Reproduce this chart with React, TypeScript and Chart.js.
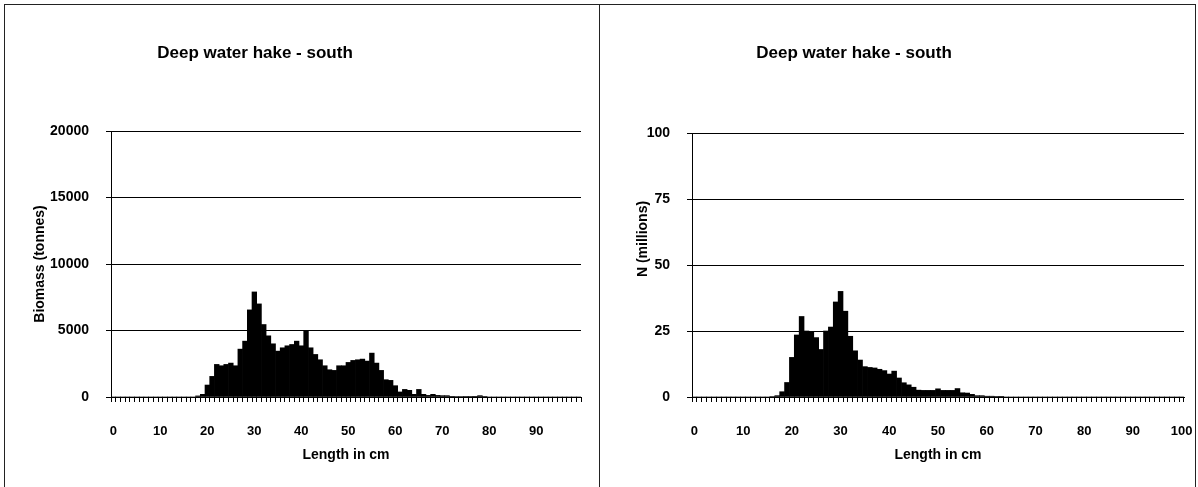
import React, { useEffect, useRef } from 'react';
import { Chart, registerables } from 'chart.js';

Chart.register(...registerables);

// ---------- data ----------
const chartTitle = 'Deep water hake - south';
const xAxisTitle = 'Length in cm';
const leftYAxisTitle = 'Biomass (tonnes)';
const rightYAxisTitle = 'N (millions)';

// length classes (cm)
const leftLengths: string[] = Array.from({ length: 100 }, (_, i) => String(i));
const rightLengths: string[] = Array.from({ length: 101 }, (_, i) => String(i));

// biomass (tonnes) per 1 cm length class, 0..99 cm
const biomassTonnes: number[] = [
  0, 0, 0, 0, 0, 0, 0, 0, 0, 0,
  0, 0, 0, 0, 0, 0, 0, 0, 80, 200,
  900, 1550, 2450, 2350, 2450, 2550, 2350, 3600, 4200, 6550,
  7900, 7000, 5450, 4600, 4000, 3450, 3700, 3850, 3950, 4200,
  3850, 5000, 3700, 3200, 2800, 2350, 2050, 2000, 2350, 2350,
  2600, 2750, 2800, 2850, 2700, 3300, 2550, 2000, 1300, 1250,
  850, 380, 570, 500, 200, 570, 200, 120, 200, 120,
  100, 100, 50, 40, 40, 30, 30, 50, 100, 30,
  0, 0, 0, 0, 0, 0, 0, 0, 0, 0,
  0, 0, 0, 0, 0, 0, 0, 0, 0, 0,
];

// numbers (millions) per 1 cm length class, 0..100 cm
const numbersMillions: number[] = [
  0, 0, 0, 0, 0, 0, 0, 0, 0, 0,
  0, 0, 0, 0, 0, 0, 0.2, 0.5, 2, 5.5,
  15, 23.5, 30.5, 25, 24.5, 22.5, 18, 25, 26.5, 36,
  40, 32.5, 23, 17.5, 14, 11.5, 11.2, 11, 10.5, 10,
  8.7, 9.8, 7.2, 5.4, 4.6, 3.7, 2.6, 2.5, 2.5, 2.5,
  3.1, 2.5, 2.5, 2.5, 3.2, 1.6, 1.5, 1.0, 0.5, 0.5,
  0.3, 0.3, 0.15, 0.1, 0, 0, 0, 0, 0, 0,
  0, 0, 0, 0, 0, 0, 0, 0, 0, 0,
  0, 0, 0, 0, 0, 0, 0, 0, 0, 0,
  0, 0, 0, 0, 0, 0, 0, 0, 0, 0,
  0,
];

const leftYTicks = { max: 20000, step: 5000 };
const rightYTicks = { max: 100, step: 25 };

// ---------- styling ----------
const FONT = '"Liberation Sans", Arial, Helvetica, sans-serif';

const panelTextPlugin = {
  id: 'panelText',
  afterDraw(chart: any, _args: any, opts: any) {
    const ctx = chart.ctx;
    ctx.save();
    ctx.fillStyle = '#000';
    ctx.textAlign = 'center';
    ctx.textBaseline = 'middle';
    ctx.font = `bold 17px ${FONT}`;
    ctx.fillText(opts.title, opts.titleX, opts.titleY);
    ctx.translate(opts.yTitleX, opts.yTitleY);
    ctx.rotate(-Math.PI / 2);
    ctx.font = `bold 14px ${FONT}`;
    ctx.fillText(opts.yTitle, 0, 0);
    ctx.restore();
  },
};

function makeConfig(
  labels: string[],
  values: number[],
  yMax: number,
  yStep: number,
  yWidth: number,
  padRight: number,
  padTop: number,
  text: any
): any {
  return {
    type: 'bar',
    data: {
      labels,
      datasets: [
        {
          data: values,
          backgroundColor: '#000',
          borderWidth: 0,
          barPercentage: 1,
          categoryPercentage: 1,
        },
      ],
    },
    options: {
      animation: false,
      responsive: false,
      events: [],
      layout: { padding: { left: 0, right: padRight, top: padTop, bottom: 0 } },
      plugins: {
        legend: { display: false },
        tooltip: { enabled: false },
        title: { display: false },
        panelText: text,
      },
      scales: {
        x: {
          offset: true,
          grid: {
            offset: true,
            drawOnChartArea: false,
            drawTicks: true,
            tickLength: 5,
            color: '#000',
            lineWidth: 1,
          },
          border: { display: true, color: '#000', width: 1 },
          ticks: {
            autoSkip: false,
            maxRotation: 0,
            minRotation: 0,
            padding: 22,
            color: '#000',
            font: { family: FONT, size: 13, weight: 'bold' },
            callback: (_v: any, i: number) => (i % 10 === 0 ? labels[i] : ''),
          },
          title: {
            display: true,
            text: xAxisTitle,
            color: '#000',
            font: { family: FONT, size: 14, weight: 'bold' },
            padding: { top: 0, bottom: 23 },
          },
          afterFit: (s: any) => {
            s.height = 90;
            s.paddingLeft = 0;
            s.paddingRight = 0;
          },
        },
        y: {
          min: 0,
          max: yMax,
          grid: {
            color: '#000',
            lineWidth: 1,
            drawTicks: true,
            tickLength: 5,
          },
          border: { display: true, color: '#000', width: 1 },
          ticks: {
            stepSize: yStep,
            padding: 17,
            color: '#000',
            font: { family: FONT, size: 14, weight: 'bold' },
            callback: (v: any) => String(v),
          },
          afterFit: (s: any) => {
            s.width = yWidth;
            s.paddingTop = 0;
            s.paddingBottom = 0;
          },
        },
      },
    },
    plugins: [panelTextPlugin],
  };
}

function Panel(props: { left: number; config: any }) {
  const ref = useRef<HTMLCanvasElement | null>(null);
  useEffect(() => {
    if (!ref.current) return;
    const chart = new Chart(ref.current, props.config);
    return () => chart.destroy();
  }, []);
  return (
    <div style={{ position: 'absolute', left: props.left, top: 0, width: 599, height: 487 }}>
      <canvas ref={ref} width={599} height={487} style={{ display: 'block' }} />
    </div>
  );
}

export default function App() {
  const leftConfig = makeConfig(
    leftLengths,
    biomassTonnes,
    leftYTicks.max,
    leftYTicks.step,
    111,
    18,
    131,
    { title: chartTitle, titleX: 255, titleY: 53, yTitle: leftYAxisTitle, yTitleX: 40, yTitleY: 264 }
  );
  const rightConfig = makeConfig(
    rightLengths,
    numbersMillions,
    rightYTicks.max,
    rightYTicks.step,
    93,
    14,
    133,
    { title: chartTitle, titleX: 255, titleY: 53, yTitle: rightYAxisTitle, yTitleX: 44, yTitleY: 239 }
  );
  const line = '#222';
  return (
    <div style={{ position: 'absolute', left: 0, top: 0, width: 1198, height: 487, background: '#fff', overflow: 'hidden' }}>
      <Panel left={0} config={leftConfig} />
      <Panel left={599} config={rightConfig} />
      <div style={{ position: 'absolute', left: 4, top: 4, width: 1192, height: 1, background: line }} />
      <div style={{ position: 'absolute', left: 4, top: 4, width: 1, height: 483, background: line }} />
      <div style={{ position: 'absolute', left: 599, top: 4, width: 1, height: 483, background: line }} />
      <div style={{ position: 'absolute', left: 1195, top: 4, width: 1, height: 483, background: line }} />
    </div>
  );
}
